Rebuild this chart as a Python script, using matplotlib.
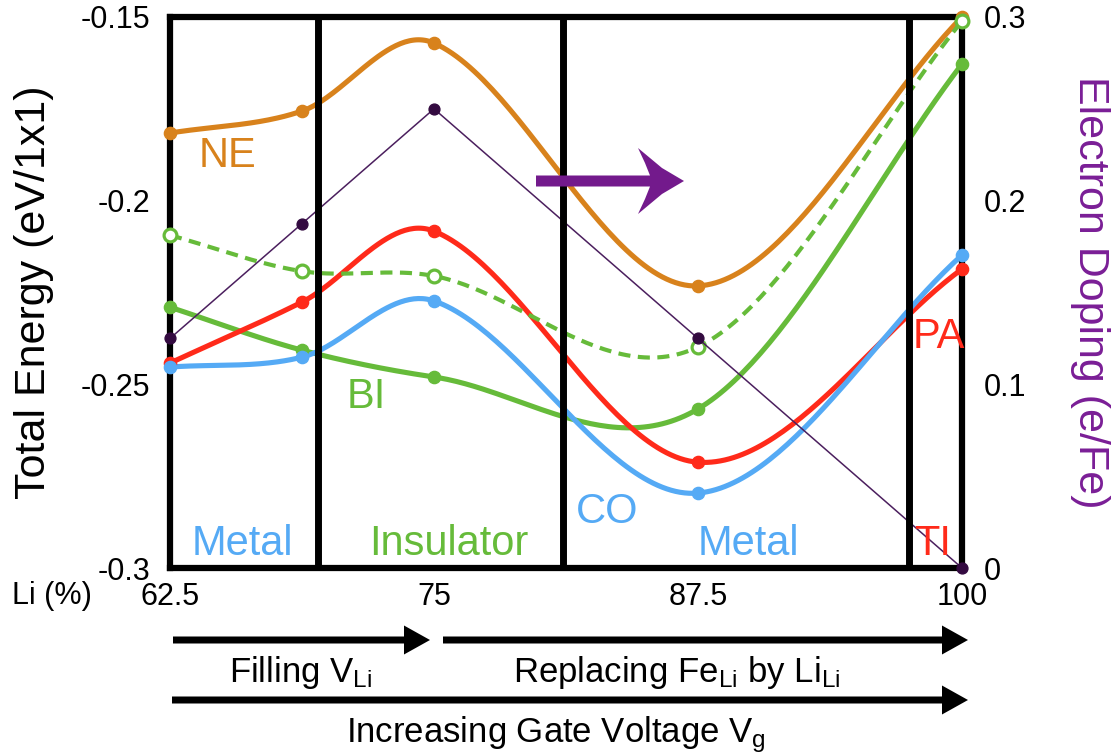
import numpy as np
import matplotlib
matplotlib.use('Agg')
import matplotlib.pyplot as plt
from matplotlib.patches import FancyArrow, Polygon
from matplotlib.transforms import IdentityTransform

plt.rcParams['font.family'] = ['Liberation Sans', 'DejaVu Sans']
plt.rcParams['mathtext.fontset'] = 'custom'
plt.rcParams['mathtext.rm'] = 'Liberation Sans'
plt.rcParams['mathtext.it'] = 'Liberation Sans'

# data
li = [62.5, 68.75, 75, 87.5, 100]
ne = [-0.1816, -0.1756, -0.1571, -0.2232, -0.1500]
pa = [-0.2442, -0.2276, -0.2083, -0.2712, -0.2186]
co = [-0.2453, -0.2426, -0.2273, -0.2796, -0.2148]
bi = [-0.2290, -0.2407, -0.2480, -0.2567, -0.1628]
bi_open = [-0.2094, -0.2192, -0.2205, -0.2398, -0.1511]
doping = [0.125, 0.1875, 0.25, 0.125, 0.0]
phase_bounds = [69.5, 81.1, 97.5]

xticks = [62.5, 75, 87.5, 100]
xticklabels = ['62.5', '75', '87.5', '100']
yticks = [-0.3, -0.25, -0.2, -0.15]
yticklabels = ['-0.3', '-0.25', '-0.2', '-0.15']
y2ticks = [0, 0.1, 0.2, 0.3]
y2ticklabels = ['0', '0.1', '0.2', '0.3']

ORANGE = '#D8821C'
RED = '#FF2A1A'
BLUE = '#55AAF5'
GREEN = '#66BB3A'
PURPLE = '#7A1E96'


def smooth(x, y, n=60):
    # cubic Hermite through the points, central-difference slopes
    x = np.asarray(x, float)
    y = np.asarray(y, float)
    m = np.empty_like(y)
    m[1:-1] = (y[2:] - y[:-2]) / (x[2:] - x[:-2])
    m[0] = (y[1] - y[0]) / (x[1] - x[0])
    m[-1] = (y[-1] - y[-2]) / (x[-1] - x[-2])
    xs_all, ys_all = [], []
    t = np.linspace(0, 1, n)
    for i in range(len(x) - 1):
        h = x[i + 1] - x[i]
        h00 = 2 * t**3 - 3 * t**2 + 1
        h10 = t**3 - 2 * t**2 + t
        h01 = -2 * t**3 + 3 * t**2
        h11 = t**3 - t**2
        xs_all.append(x[i] + t * h)
        ys_all.append(h00 * y[i] + h10 * h * m[i] + h01 * y[i + 1]
                      + h11 * h * m[i + 1])
    return np.concatenate(xs_all), np.concatenate(ys_all)


fig = plt.figure(figsize=(11.19, 7.55), dpi=100)
ax = fig.add_axes([170 / 1119, 1 - 568 / 755, 792 / 1119, 551 / 755])
ax2 = ax.twinx()

ax.set_xlim(62.5, 100)
ax.set_ylim(-0.3, -0.15)
ax2.set_ylim(0, 0.3)

# energy curves
for vals, c in [(ne, ORANGE), (bi, GREEN), (pa, RED), (co, BLUE)]:
    xs, ys = smooth(li, vals)
    ax.plot(xs, ys, color=c, lw=3.7, zorder=2, solid_capstyle='round')
    ax.plot(li, vals, 'o', color=c, ms=8.8, zorder=5, clip_on=False)

xs, ys = smooth(li, bi_open)
ax.plot(xs, ys, color=GREEN, lw=3, ls=(0, (2.9, 1.8)), zorder=2)
ax.plot(li, bi_open, 'o', mfc='white', mec=GREEN, mew=2.3, ms=9.2,
        zorder=5, clip_on=False)

# electron doping
ax2.plot(li, doping, '-', color='#4B1F5E', lw=1.1, zorder=1)
ax2.plot(li, doping, 'o', color='#330A40', ms=7.8, zorder=6, clip_on=False)

for xb in phase_bounds:
    ax2.axvline(xb, color='black', lw=5, zorder=4)

for s in ax.spines.values():
    s.set_linewidth(4.5)
for s in ax2.spines.values():
    s.set_visible(False)

ax.set_xticks(xticks)
ax.set_xticklabels(xticklabels)
ax.set_yticks(yticks)
ax.set_yticklabels(yticklabels)
ax2.set_yticks(y2ticks)
ax2.set_yticklabels(y2ticklabels)
ax.tick_params(axis='x', length=0, pad=10, labelsize=22)
ax.tick_params(axis='y', length=0, pad=14, labelsize=22)
ax2.tick_params(axis='y', length=0, pad=16, labelsize=22)

ax.set_ylabel('Total Energy (eV/1x1)', fontsize=31)
ax.yaxis.set_label_coords(-0.1465, 0.5)
ax2.set_ylabel('Electron Doping (e/Fe)', fontsize=31, color=PURPLE,
               rotation=270, va='bottom')
ax2.yaxis.set_label_coords(1.136, 0.5)

fig.text(12 / 1119, 1 - 604 / 755, 'Li (%)', fontsize=22, ha='left',
         va='baseline')

# phase / curve labels
labels = [
    ('NE', 0.0720, 0.7278, ORANGE),
    ('BI', 0.2475, 0.2904, GREEN),
    ('Metal', 0.0909, 0.0236, BLUE),
    ('Insulator', 0.3523, 0.0236, GREEN),
    ('CO', 0.5518, 0.0817, BLUE),
    ('Metal', 0.7298, 0.0236, BLUE),
    ('TI', 0.9634, 0.0236, RED),
    ('PA', 0.9710, 0.3993, RED),
]
for t, x, y, c in labels:
    ax2.text(x, y, t, transform=ax.transAxes, color=c, fontsize=30,
             ha='center', va='baseline', zorder=7)

# purple arrow (pixel coords -> axes fraction)
pts_px = [(536, 175.5), (650, 175.5), (645, 163), (638, 148), (662, 168),
          (684, 181), (662, 194), (638, 214), (645, 199), (650, 186.5),
          (536, 186.5)]
pts = [((px - 170) / 792, (568 - py) / 551) for px, py in pts_px]
ax2.add_patch(Polygon(pts, closed=True, transform=ax.transAxes,
                      color='#731A8C', lw=0, zorder=5))

# bottom arrows
H = 755
for x0, x1, y in [(173, 430, 640), (443, 968, 640), (172, 968, 700)]:
    fig.patches.append(FancyArrow(x0, H - y, x1 - x0, 0, width=7,
                                  head_width=29, head_length=26,
                                  length_includes_head=True,
                                  transform=IdentityTransform(),
                                  color='black', lw=0))

fig.text(301, H - 682, r'Filling $\mathregular{V_{Li}}$', fontsize=25,
         ha='center', va='baseline', transform=IdentityTransform())
fig.text(677, H - 682, r'Replacing $\mathregular{Fe_{Li}}$ by $\mathregular{Li_{Li}}$',
         fontsize=25, ha='center', va='baseline', transform=IdentityTransform())
fig.text(556, H - 742, r'Increasing Gate Voltage $\mathregular{V_{g}}$',
         fontsize=25, ha='center', va='baseline', transform=IdentityTransform())

fig.savefig('out.png', dpi=100)
